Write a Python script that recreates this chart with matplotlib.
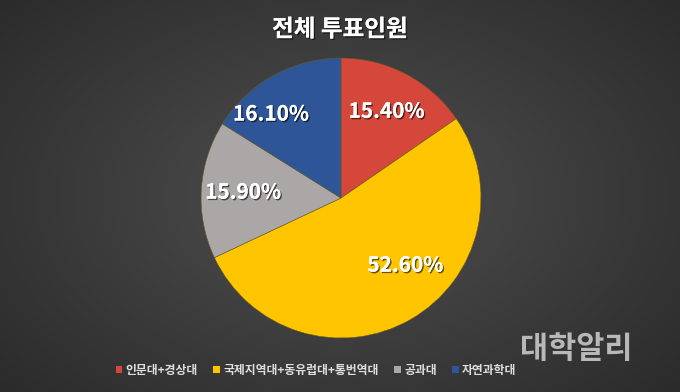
import numpy as np
import matplotlib.pyplot as plt
import matplotlib.patheffects as pe
from matplotlib.patches import Patch
from matplotlib.colors import LinearSegmentedColormap

plt.rcParams['font.family'] = ['Noto Sans CJK KR', 'DejaVu Sans']

title = "전체 투표인원"
groups = ["인문대+경상대", "국제지역대+동유럽대+통번역대", "공과대", "자연과학대"]
shares = [15.4, 52.6, 15.9, 16.1]
colors = ["#D4473A", "#FFC600", "#ACA7A7", "#2E5597"]

fig = plt.figure(figsize=(6.8, 3.92), dpi=100)

# dark radial background
bg = fig.add_axes([0, 0, 1, 1])
yy, xx = np.mgrid[-1:1:200j, -1:1:340j]
rr = np.sqrt(xx ** 2 + (yy * 0.9) ** 2)
bg_cmap = LinearSegmentedColormap.from_list("bg", ["#4f4f4f", "#2b2b2b"])
bg.imshow(rr, cmap=bg_cmap, vmin=0, vmax=1.35, aspect="auto", extent=[0, 1, 0, 1])
bg.axis("off")

shadow = [pe.withSimplePatchShadow(offset=(1, -1), shadow_rgbFace="black", alpha=0.6), pe.Normal()]

ax = fig.add_axes([0.2956, 0.1378, 0.4118, 0.714])
wedges, _, pct = ax.pie(shares, colors=colors, startangle=90, counterclock=False,
                        autopct=lambda p: f"{p:.2f}%", pctdistance=0.7,
                        wedgeprops=dict(edgecolor="#6b5a20", linewidth=0.4))
for t in pct:
    t.set_color("white")
    t.set_fontsize(15)
    t.set_fontweight("bold")
    t.set_path_effects(shadow)
# nudge labels like the original
pct[1].set_position((0.46, -0.48))
pct[3].set_position((-0.5, 0.6))
ax.set_xlim(-1, 1)
ax.set_ylim(-1, 1)
ax.set_aspect("equal")
ax.axis("off")

fig.text(0.5, 0.925, title, ha="center", va="center", color="white", fontsize=17,
         fontweight="bold", path_effects=shadow)

handles = [Patch(facecolor=c, edgecolor="none") for c in colors]
leg = fig.legend(handles, groups, loc="center", bbox_to_anchor=(0.465, 0.055), ncol=4,
                 frameon=False, handlelength=0.55, handleheight=0.55, handletextpad=0.3,
                 columnspacing=1.3, prop=dict(size=8.5, weight="bold"))
for t in leg.get_texts():
    t.set_color("#e0e0e0")

# watermark
fig.text(0.765, 0.11, "대학알리", color="#d0d0d0", alpha=0.85, fontsize=22,
         fontweight="bold", ha="left", va="center")

fig.savefig("out.png", dpi=100)
